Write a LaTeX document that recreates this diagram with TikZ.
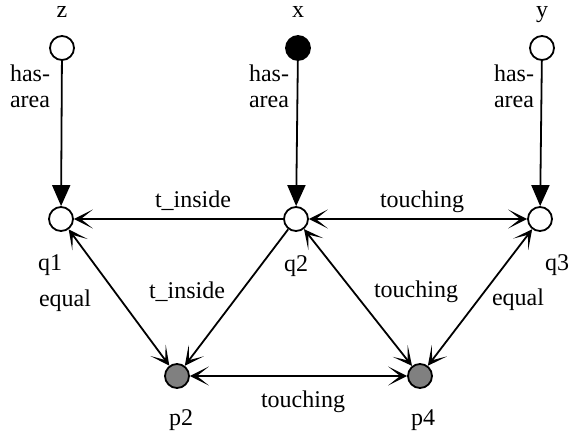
\documentclass[tikz,border=0pt]{standalone}
\usepackage{fontspec}
\setmainfont{Liberation Serif}
\usepackage{tikz}
\usetikzlibrary{arrows.meta}
\tikzstyle{hasarrow} = [line width=1.8pt,-{Triangle[length=21pt,width=18pt]}]
\tikzstyle{relarrow} = [line width=1.8pt,-{Stealth[length=19pt,width=19pt,inset=12pt]}]
\tikzstyle{relboth} = [line width=1.8pt,{Stealth[length=19pt,width=19pt,inset=12pt]}-{Stealth[length=19pt,width=19pt,inset=12pt]}]

\begin{document}
\begin{tikzpicture}[x=1pt, y=-1pt,
font=\fontsize{24}{26}\selectfont,
emptynode/.style={circle, draw, line width=1.8pt, fill=white, inner sep=0pt, minimum size=24pt},
blacknode/.style={circle, draw, line width=1.8pt, fill=black, inner sep=0pt, minimum size=24pt},
greynode/.style={circle, draw, line width=1.8pt, fill=black!50, inner sep=0pt, minimum size=24pt},
txt/.style={anchor=base, inner sep=0pt, align=center}]
\useasboundingbox (0,0) rectangle (570,437);
\node[emptynode] (z) at (62,48) {};
\node[blacknode] (x) at (298,48) {};
\node[emptynode] (y) at (542,48) {};
\node[emptynode] (q1) at (61,219) {};
\node[emptynode] (q2) at (296,219) {};
\node[emptynode] (q3) at (540,219) {};
\node[greynode] (p2) at (177,376) {};
\node[greynode] (p4) at (420,376) {};
\draw[hasarrow] (z) -- (q1);
\draw[hasarrow] (x) -- (q2);
\draw[hasarrow] (y) -- (q3);
\draw[relarrow] (q2) -- (q1);
\draw[relboth] (q2) -- (q3);
\draw[relboth] (q1) -- (p2);
\draw[relarrow] (q2) -- (p2);
\draw[relboth] (q2) -- (p4);
\draw[relboth] (q3) -- (p4);
\draw[relboth] (p2) -- (p4);
% node names
\node[txt, text height=11pt] (ztxt) at (62,17) {z};
\node[txt, text height=11pt] (xtxt) at (298,17) {x};
\node[txt, text height=11pt] (ytxt) at (542,17) {y};
\node[txt] (q1txt) at (50,270) {q1};
\node[txt] (q2txt) at (296,271) {q2};
\node[txt] (q3txt) at (557,270) {q3};
\node[txt] (p2txt) at (181,425) {p2};
\node[txt] (p4txt) at (423,425) {p4};
% relation labels
\node[txt] (areatxt1) at (30,107) {has-\\area};
\node[txt] (areatxt2) at (269,107) {has-\\area};
\node[txt] (areatxt3) at (514,107) {has-\\area};
\node[txt] (insidetxt1) at (193,207) {t\_inside};
\node[txt] (touchtxt1) at (422,207) {touching};
\node[txt] (equaltxt1) at (65,306) {equal};
\node[txt] (insidetxt2) at (187,298) {t\_inside};
\node[txt] (touchtxt2) at (416,297) {touching};
\node[txt] (equaltxt2) at (518,305) {equal};
\node[txt] (touchtxt3) at (303,407) {touching};
\end{tikzpicture}
\end{document}
